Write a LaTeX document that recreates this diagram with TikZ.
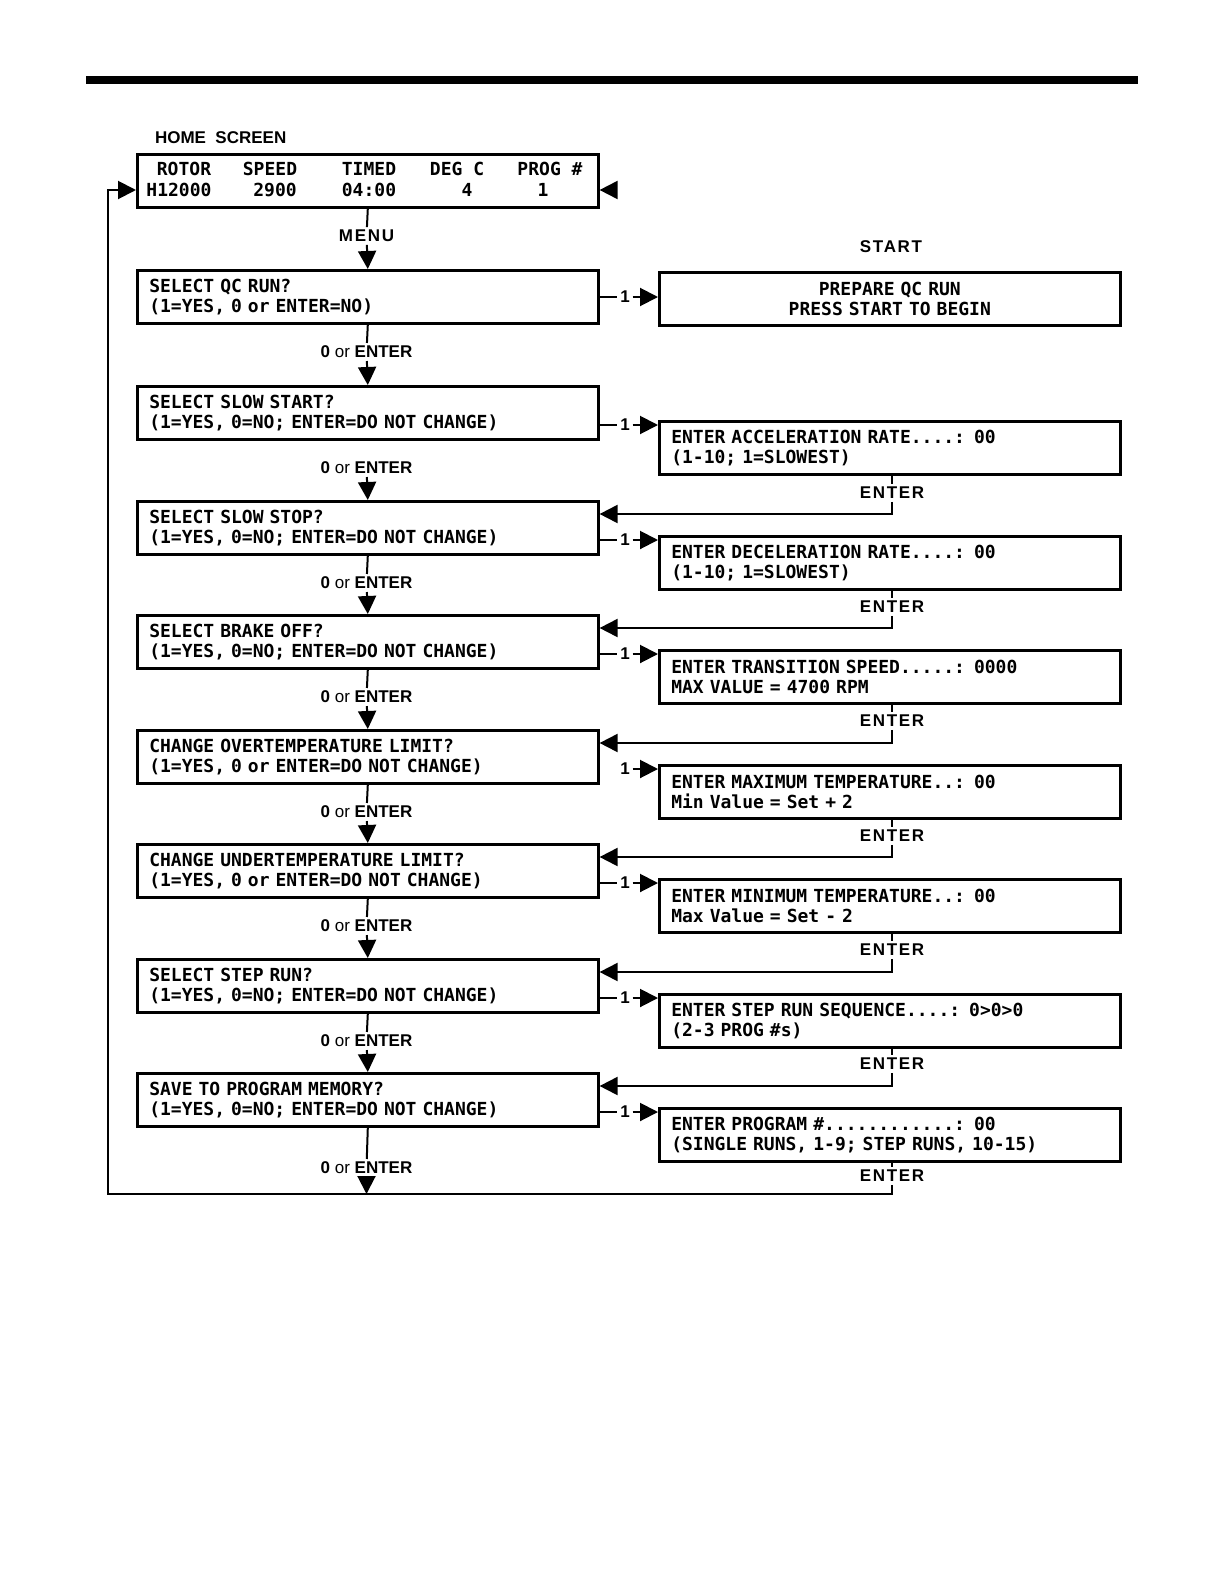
\documentclass[tikz,border=0pt]{standalone}
\usepackage{fontspec}
\usetikzlibrary{arrows.meta}
\newfontfamily\lcdfont{DejaVu Sans Mono Bold}
\newfontfamily\lblfont{Liberation Sans}
\newfontfamily\lblwide{Liberation Sans}[LetterSpace=10]

\begin{document}
\begin{tikzpicture}[x=0.5pt,y=-0.5pt,line width=1pt,
  >={Triangle[length=9pt,width=9pt]},
  screen/.style={draw,line width=1.3pt,anchor=north west,text width=218.5pt,
    inner xsep=6pt,inner ysep=0pt,minimum height=26.5pt,align=left,
    font=\lcdfont\fontsize{9}{10}\selectfont},
  lcd/.style={font=\lcdfont\fontsize{9}{10}\selectfont,inner sep=0pt},
  keyname/.style={font=\lblwide\bfseries\fontsize{8.5}{10}\selectfont,inner sep=1pt},
  keyor/.style={font=\lblfont\fontsize{8.5}{10}\selectfont,inner sep=1pt},
  one/.style={font=\lblfont\bfseries\fontsize{8.5}{10}\selectfont,inner sep=1pt}]
  \useasboundingbox (0,0) rectangle (1224,1584);
  \fill (86,76) rectangle (1138,84);

  % home screen
  \node[one,anchor=west] (homelbl) at (152,138) {HOME\ \ SCREEN};
  \node[draw,line width=1.3pt,anchor=north west,minimum width=230.5pt,
    minimum height=26.5pt,inner sep=0pt] (home) at (136,153) {};
  \foreach \x/\hd/\vx/\val [count=\i] in {184/ROTOR/179/H12000,270/SPEED/275/2900,
      369/TIMED/369/04:00,457/DEG C/467/4,550/PROG \#/543/1} {
    \node[lcd] (hd\i) at (\x,169) {\hd};
    \node[lcd] (val\i) at (\vx,190) {\val};
  }
  \node[keyname] (menu) at (366.5,236) {MENU};
  \node[keyname] (start) at (891,247) {START};

  % menu screens
  \node[screen] (qc) at (136,269) {SELECT QC RUN?\\(1=YES, 0 or ENTER=NO)};
  \node[screen] (slowstart) at (136,385) {SELECT SLOW START?\\(1=YES, 0=NO; ENTER=DO NOT CHANGE)};
  \node[screen] (slowstop) at (136,500) {SELECT SLOW STOP?\\(1=YES, 0=NO; ENTER=DO NOT CHANGE)};
  \node[screen] (brake) at (136,614) {SELECT BRAKE OFF?\\(1=YES, 0=NO; ENTER=DO NOT CHANGE)};
  \node[screen] (overtemp) at (136,729) {CHANGE OVERTEMPERATURE LIMIT?\\(1=YES, 0 or ENTER=DO NOT CHANGE)};
  \node[screen] (undertemp) at (136,843) {CHANGE UNDERTEMPERATURE LIMIT?\\(1=YES, 0 or ENTER=DO NOT CHANGE)};
  \node[screen] (steprun) at (136,958) {SELECT STEP RUN?\\(1=YES, 0=NO; ENTER=DO NOT CHANGE)};
  \node[screen] (save) at (136,1072) {SAVE TO PROGRAM MEMORY?\\(1=YES, 0=NO; ENTER=DO NOT CHANGE)};

  % entry screens
  \node[screen,align=center] (prepare) at (658,271) {PREPARE QC RUN\\PRESS START TO BEGIN};
  \node[screen] (accel) at (658,420) {ENTER ACCELERATION RATE....: 00\\(1-10; 1=SLOWEST)};
  \node[screen] (decel) at (658,535) {ENTER DECELERATION RATE....: 00\\(1-10; 1=SLOWEST)};
  \node[screen] (trans) at (658,649) {ENTER TRANSITION SPEED.....: 0000\\MAX VALUE = 4700 RPM};
  \node[screen] (maxtemp) at (658,764) {ENTER MAXIMUM TEMPERATURE..: 00\\Min Value = Set + 2};
  \node[screen] (mintemp) at (658,878) {ENTER MINIMUM TEMPERATURE..: 00\\Max Value = Set - 2};
  \node[screen] (stepseq) at (658,993) {ENTER STEP RUN SEQUENCE....: 0>0>0\\(2-3 PROG \#s)};
  \node[screen] (prognum) at (658,1107) {ENTER PROGRAM \#............: 00\\(SINGLE RUNS, 1-9; STEP RUNS, 10-15)};

  % 0 or ENTER keys
  \node[keyor] (k1) at (366.5,352) {{\bfseries 0} or {\bfseries ENTER}};
  \node[keyor] (k2) at (366.5,468) {{\bfseries 0} or {\bfseries ENTER}};
  \node[keyor] (k3) at (366.5,583) {{\bfseries 0} or {\bfseries ENTER}};
  \node[keyor] (k4) at (366.5,697) {{\bfseries 0} or {\bfseries ENTER}};
  \node[keyor] (k5) at (366.5,812) {{\bfseries 0} or {\bfseries ENTER}};
  \node[keyor] (k6) at (366.5,926) {{\bfseries 0} or {\bfseries ENTER}};
  \node[keyor] (k7) at (366.5,1041) {{\bfseries 0} or {\bfseries ENTER}};
  \node[keyor] (k8) at (366.5,1168) {{\bfseries 0} or {\bfseries ENTER}};

  \draw (home.south) -- (menu);
  \draw[->] (menu) -- (qc.north);
  \draw (qc.south) -- (k1);
  \draw[->] (k1) -- (slowstart.north);
  \draw[->] (k2) -- (slowstop.north);
  \draw (slowstop.south) -- (k3);
  \draw[->] (k3) -- (brake.north);
  \draw (brake.south) -- (k4);
  \draw[->] (k4) -- (overtemp.north);
  \draw (overtemp.south) -- (k5);
  \draw[->] (k5) -- (undertemp.north);
  \draw (undertemp.south) -- (k6);
  \draw[->] (k6) -- (steprun.north);
  \draw (steprun.south) -- (k7);
  \draw[->] (k7) -- (save.north);
  \draw (save.south) -- (k8);

  % 1 keys
  \node[one] (o0) at (625,297) {1};
  \node[one] (o1) at (625,425) {1};
  \node[one] (o2) at (625,540) {1};
  \node[one] (o3) at (625,654) {1};
  \node[one] (o4) at (625,769) {1};
  \node[one] (o5) at (625,883) {1};
  \node[one] (o6) at (625,998) {1};
  \node[one] (o7) at (625,1112) {1};
  \draw (qc.east |- o0) -- (o0);
  \draw[->] (o0) -- (prepare.west |- o0);
  \draw (slowstart.east |- o1) -- (o1);
  \draw[->] (o1) -- (accel.west |- o1);
  \draw (slowstop.east |- o2) -- (o2);
  \draw[->] (o2) -- (decel.west |- o2);
  \draw (brake.east |- o3) -- (o3);
  \draw[->] (o3) -- (trans.west |- o3);
  \draw[->] (o4) -- (maxtemp.west |- o4);
  \draw (undertemp.east |- o5) -- (o5);
  \draw[->] (o5) -- (mintemp.west |- o5);
  \draw (steprun.east |- o6) -- (o6);
  \draw[->] (o6) -- (stepseq.west |- o6);
  \draw (save.east |- o7) -- (o7);
  \draw[->] (o7) -- (prognum.west |- o7);

  % ENTER returns
  \node[keyname] (en1) at (892,493) {ENTER};
  \node[keyname] (en2) at (892,607) {ENTER};
  \node[keyname] (en3) at (892,721) {ENTER};
  \node[keyname] (en4) at (892,836) {ENTER};
  \node[keyname] (en5) at (892,950) {ENTER};
  \node[keyname] (en6) at (892,1064) {ENTER};
  \node[keyname] (en7) at (892,1176) {ENTER};
  \coordinate (c1) at (892,514);
  \coordinate (c2) at (892,628);
  \coordinate (c3) at (892,743);
  \coordinate (c4) at (892,857);
  \coordinate (c5) at (892,972);
  \coordinate (c6) at (892,1086);
  \coordinate (c7) at (892,1194);
  \coordinate (c8) at (108,1194);
  \coordinate (c9) at (108,190);
  \coordinate (hr) at (616,190);
  \draw (en1 |- accel.south) -- (en1);
  \draw[->] (en1) -- (c1) -- (slowstop.east |- c1);
  \draw (en2 |- decel.south) -- (en2);
  \draw[->] (en2) -- (c2) -- (brake.east |- c2);
  \draw (en3 |- trans.south) -- (en3);
  \draw[->] (en3) -- (c3) -- (overtemp.east |- c3);
  \draw (en4 |- maxtemp.south) -- (en4);
  \draw[->] (en4) -- (c4) -- (undertemp.east |- c4);
  \draw (en5 |- mintemp.south) -- (en5);
  \draw[->] (en5) -- (c5) -- (steprun.east |- c5);
  \draw (en6 |- stepseq.south) -- (en6);
  \draw[->] (en6) -- (c6) -- (save.east |- c6);
  \draw (en7 |- prognum.south) -- (en7);
  \draw[->] (en7) -- (c7) -- (c8) -- (c9) -- (home.west |- c9);
  \draw[->] (k8) -- (k8 |- c7);
  \draw[->] (hr) -- (home.east |- hr);
\end{tikzpicture}
\end{document}
